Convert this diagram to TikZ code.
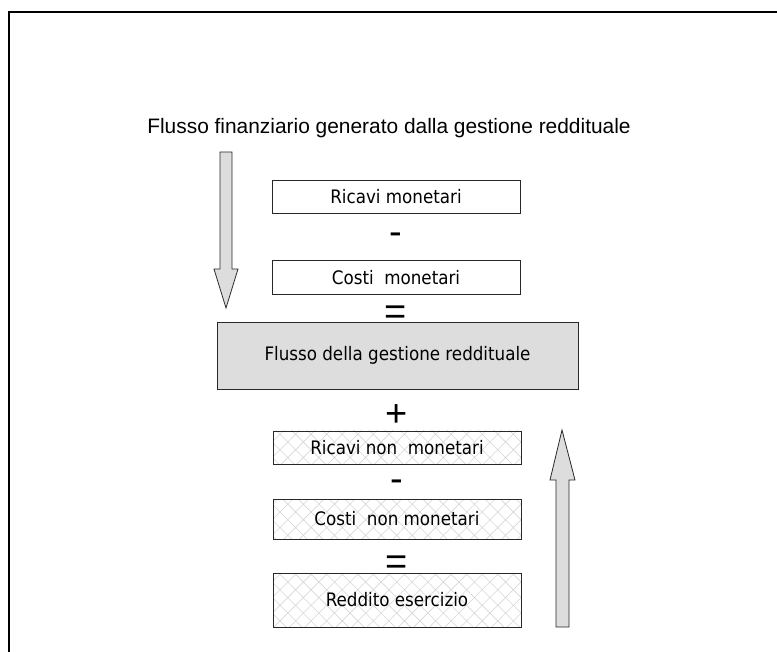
\documentclass[tikz,border=0pt]{standalone}
\usepackage{fontspec}
\setmainfont{Liberation Sans}
\newfontfamily\boxfont{DejaVu Sans Condensed}
\usetikzlibrary{patterns.meta}
\definecolor{lightfill}{RGB}{221,221,221}
\definecolor{edgecol}{RGB}{40,40,40}
\tikzset{
  box/.style={draw=edgecol, line width=0.9pt, rectangle, minimum width=248pt, inner sep=0pt, font=\boxfont\fontsize{18.6}{21}\selectfont},
  hatchbox/.style={box, pattern={Hatch[angle=45,distance=11pt,line width=0.6pt]}, pattern color=black!16},
  opsign/.style={inner sep=0pt, anchor=base, font=\fontsize{38}{42}\selectfont},
  bigarrow/.style={fill=lightfill, draw=edgecol, line width=0.8pt}
}
\begin{document}
\begin{tikzpicture}[x=1pt,y=-1pt]
\useasboundingbox (0,0) rectangle (777,652);
\draw[line width=2pt] (8.5,652) -- (8.5,12) -- (777,12);
\node[inner sep=0pt, font=\fontsize{20.9}{24}\selectfont] (title) at (389,128) {Flusso finanziario generato dalla gestione reddituale};
\node[box, minimum height=33pt] (rm) at (396,196.5) {Ricavi monetari};
\node[opsign] (op1) at (396,245) {-};
\node[box, minimum height=34pt] (cm) at (396,277.5) {Costi\ \ monetari};
\node[opsign] (op2) at (396,325) {=};
\node[box, fill=lightfill, minimum width=361pt, minimum height=67pt] (fg) at (397.5,355.5) {Flusso della gestione reddituale};
\node[opsign] (op3) at (397,427) {+};
\node[hatchbox, minimum height=33pt] (rnm) at (397,447.5) {Ricavi non\ \ monetari};
\node[opsign] (op4) at (397,491) {-};
\node[hatchbox, minimum height=40pt] (cnm) at (397,519) {Costi\ \ non monetari};
\node[opsign] (op5) at (397,574) {=};
\node[hatchbox, minimum height=54pt] (re) at (397,600) {Reddito esercizio};
\draw[bigarrow] (220,152) -- (232,152) -- (232,269) -- (238,269) -- (226,308) -- (214,269) -- (220,269) -- cycle;
\draw[bigarrow] (556,627) -- (569,627) -- (569,480) -- (575,480) -- (562,430) -- (550,480) -- (556,480) -- cycle;
\end{tikzpicture}
\end{document}
